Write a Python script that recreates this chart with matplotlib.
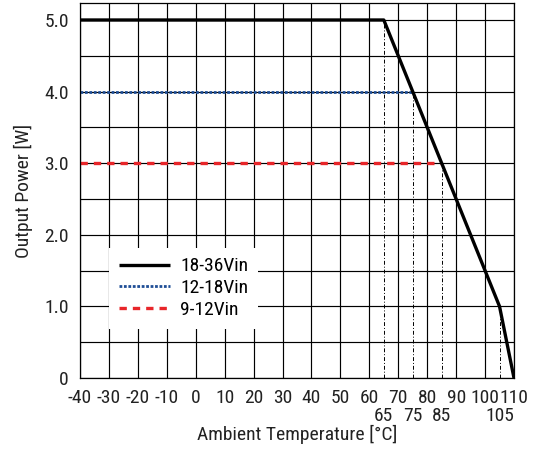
import matplotlib
matplotlib.use("Agg")
import matplotlib.pyplot as plt
import numpy as np
from matplotlib import font_manager

# pick a condensed sans font if available
entries = font_manager.fontManager.ttflist
chosen = None
for pref in ['Liberation Sans Narrow', 'Roboto Condensed', 'Open Sans Condensed']:
    for f in entries:
        if f.name == pref and f.style == 'normal':
            chosen = (f.name, f.stretch)
            break
    if chosen:
        break
if chosen is None:
    for f in entries:
        if ('condensed' in str(f.stretch).lower()) and f.style == 'normal' and 'Sans' in f.name and 'Mono' not in f.name:
            chosen = (f.name, f.stretch)
            break
if chosen is None:
    chosen = ('Liberation Sans', 'normal')
plt.rcParams['font.family'] = [chosen[0], 'DejaVu Sans']
plt.rcParams['font.stretch'] = chosen[1]

# Data
t_1836 = [-40, 65, 105, 110]
p_1836 = [5.0, 5.0, 1.0, 0.0]
t_1218 = [-40, 75]
p_1218 = [4.0, 4.0]
t_912 = [-40, 85]
p_912 = [3.0, 3.0]
mark_t = [65, 75, 85, 105]
mark_p = [5.0, 4.0, 3.0, 1.0]
xticks = list(range(-40, 111, 10))
yticks = [0, 1, 2, 3, 4, 5]
ytick_labels = ['0', '1.0', '2.0', '3.0', '4.0', '5.0']
labels = ['18-36Vin', '12-18Vin', '9-12Vin']

fig = plt.figure(figsize=(5.46, 4.61), dpi=100)
ax = fig.add_axes([80/546, 1-378/461, 434/546, 375/461])
ax.set_xlim(-40, 110)
ax.set_ylim(0, 5.0 + 17/71.6)

# grid
for x in xticks:
    ax.axvline(x, color='black', lw=0.85, zorder=1)
for y in np.arange(0, 5.01, 0.5):
    ax.axhline(y, color='black', lw=0.85, zorder=1)

ax.vlines(mark_t, 0, mark_p, colors='black', linestyles=(0, (4, 2, 1, 2)), lw=0.7, zorder=2)

l1, = ax.plot(t_1836, p_1836, color='black', lw=2.4, zorder=5, solid_capstyle='butt')
l2, = ax.plot(t_1218, p_1218, color='#1f4e96', lw=2.0, ls=(0, (1.0, 0.6)), zorder=4)
l3, = ax.plot(t_912, p_912, color='#e8262a', lw=2.4, ls=(0, (2.2, 1.8)), zorder=4)

for s in ax.spines.values():
    s.set_linewidth(0.9)
    s.set_zorder(6)

ax.set_xticks(xticks)
ax.set_xticklabels([str(x) for x in xticks])
ax.set_xticks(mark_t, minor=True)
ax.set_xticklabels([str(x) for x in mark_t], minor=True)
ax.set_yticks(yticks)
ax.set_yticklabels(ytick_labels)
ax.tick_params(axis='both', which='both', length=0, labelsize=14, colors='#222222')
ax.tick_params(axis='x', which='major', pad=8)
ax.tick_params(axis='x', which='minor', pad=21)
ax.tick_params(axis='y', pad=8)

ax.set_xlabel('Ambient Temperature [°C]', fontsize=14, color='#222222', labelpad=0)
ax.set_ylabel('Output Power [W]', fontsize=14, color='#222222', labelpad=8)

leg = ax.legend([l1, l2, l3], labels, loc='lower left', bbox_to_anchor=(0.045, 0.105),
                frameon=True, fontsize=14, handlelength=2.6, handletextpad=0.55,
                labelspacing=0.2, borderpad=0.5)
leg.get_frame().set_edgecolor('none')
leg.get_frame().set_facecolor('white')
leg.get_frame().set_alpha(1)
leg.get_frame().set_boxstyle('square', pad=0)
leg.set_zorder(7)

fig.savefig('out.png', dpi=100)
